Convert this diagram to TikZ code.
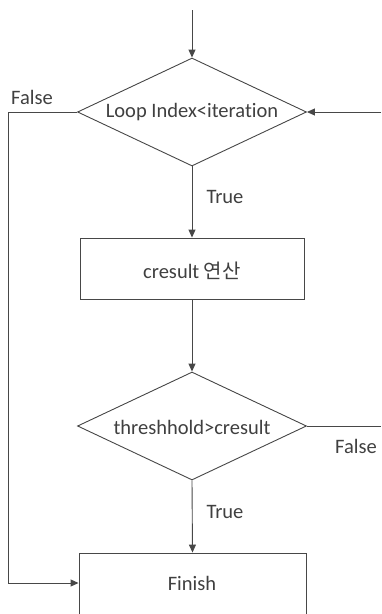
\documentclass[tikz,border=0pt]{standalone}
\usepackage{fontspec}
\setmainfont{Carlito}[Ligatures={NoCommon}]
\newfontfamily\krfont{Noto Sans CJK KR}
\usetikzlibrary{shapes.geometric,arrows.meta}
\begin{document}
\begin{tikzpicture}[x=1pt,y=-1pt,
  line/.style={draw=black!72,line width=0.9pt},
  flow/.style={line,-{Triangle[length=8pt,width=7pt]}},
  lbl/.style={text=black!75,font=\fontsize{20.5}{24}\selectfont,inner sep=0pt},
  decision/.style={line,fill=white,diamond,aspect=2.12,inner sep=0pt,minimum width=229pt,minimum height=108pt},
  process/.style={line,fill=white,rectangle,inner sep=0pt}]
\useasboundingbox (0,0) rectangle (381,614);
% nodes
\coordinate (start) at (192,10);
\node[decision] (loop) at (192,112) {};
\node[lbl] at (192,112) {Loop Index<iteration};
\coordinate (back) at (381,112);
\node[process,minimum width=224pt,minimum height=61pt] (calc) at (192,268.5) {};
\node[lbl] at (192,271) {cresult {\krfont\fontsize{20}{24}\selectfont 연산}};
\node[decision] (check) at (192,426) {};
\node[lbl] at (192,427) {threshhold>cresult};
\coordinate (out) at (381,426);
\node[process,minimum width=227pt,minimum height=80pt] (finish) at (192.5,593) {};
\node[lbl] at (192,583) {Finish};
\coordinate (corner1) at (8,112);
\coordinate (corner2) at (8,583);
\coordinate (fin in) at (finish.west |- corner2);
% connectors
\draw[flow] (start) -- (loop.north);
\draw[flow] (back) -- (loop.east);
\draw[flow] (loop.south) -- (calc.north);
\draw[flow] (calc.south) -- (check.north);
\draw[line] (check.east) -- (out);
\draw[flow] (check.south) -- (finish.north);
\draw[flow] (loop.west) -- (corner1) -- (corner2) -- (fin in);
% labels
\node[lbl] at (32,97) {False};
\node[lbl] at (225,197) {True};
\node[lbl] at (356,446) {False};
\node[lbl] at (225,512) {True};
\end{tikzpicture}
\end{document}
